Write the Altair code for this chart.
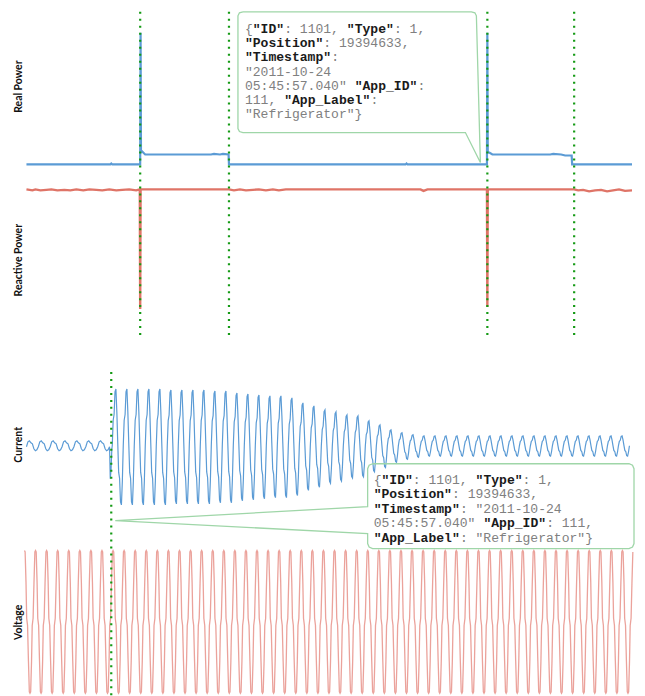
import altair as alt
import pandas as pd

# ---------------- Top section: power signals (x = sample units) ----------------
rp_t = [0, 84, 85, 86, 114, 114.4, 114.8, 116, 119, 150, 185, 188, 194, 197, 202.6, 203,
        290, 380, 381, 382, 461.6, 462, 462.4, 464, 467, 500, 525, 528, 536, 540, 546.5, 547, 607]
rp_v = [0, 0, 1, 0, 0, 132, 12, 13, 10, 10, 10, 10.5, 10, 10.5, 10, 0,
        0, 0, 1, 0, 0, 132, 12, 12, 10, 10, 10, 10.5, 10, 9, 9, 0, 0]

rq_t = [0, 6, 9, 14, 20, 25, 31, 38, 44, 50, 57, 63, 70, 76, 83, 90, 96, 103, 110, 113.6,
        114, 114.4, 160, 203, 208, 214, 220, 227, 233, 240, 247, 253, 260, 300, 395, 398, 402,
        461.6, 462, 462.4, 520, 549, 553, 558, 564, 570, 576, 582, 588, 594, 600, 607]
rq_v = [0, -1, 0, -1, -0.5, 0, -1, -0.5, -1, 0, -1, 0, -0.5, -1, 0, -1, -0.5, 0, -1, 0,
        -120, 0, 0, 0, -1, 0, -1, -0.5, 0, -1, 0, -1, 0, 0, 0, -1.5, 0,
        0, -118, 0, 0, 0, -1, -0.5, -2, -1, -0.5, -2, -1, 0, -1.5, -1]
top_events = [114, 203, 462, 549]

# ---------------- Bottom section: waveforms ----------------
pre_start, pre_period, pre_cycles = 0.0, 11.9, 7
pre_shape = [-1, 4, 5, 3, 2, -3, -5, -4]
event_t = [83.3, 84.0, 84.8, 85.6]
event_v = [-1, -33, -24, -3]
cur_start, cur_period = 86.0, 11.03
cur_shape = [0.0, 0.45, 0.55, 0.95, 1.0, 0.6, 0.05, -0.45, -0.55, -0.95, -1.0, -0.6]
cur_amp = [57, 57, 57, 57, 57, 56, 56, 56, 56, 55, 55, 53, 52, 51, 50, 50, 48, 43, 40, 36,
           34, 31, 30, 25, 21, 16, 13, 11] + [10] * 19
volt_start, volt_period, volt_cycles, volt_peak = -2.0, 11.1, 55, 71.5
volt_phase = [0.0, 0.06, 0.14, 0.20, 0.28, 0.36, 0.44, 0.50, 0.56, 0.64, 0.70, 0.78, 0.86, 0.94]
volt_shape = [1.0, 0.98, 0.55, 0.05, -0.05, -0.55, -0.98, -1.0, -0.98, -0.55, -0.05, 0.05, 0.55, 0.98]
bottom_events = [85]

# ---------------- Panel titles (value in each panel's own units) ----------------
panel_titles = ["Real Power", "Reactive Power", "Current", "Voltage"]
title_pos = [78, -71, 1, -0.5]

# ---------------- Callout annotations (panel units) ----------------
top_box_x = [217, 446, 449.5, 451, 455, 440, 217, 213.5, 212, 212, 213.5, 217]
top_box_y = [153, 153, 152, 149, 2, 32, 32, 33, 36, 149, 152, 153]
bot_box_x = [347, 604, 607.5, 609, 609, 607.5, 604, 347, 343.5, 342, 342, 89, 342, 342, 343.5, 347]
bot_box_y = [-18, -18, -19.5, -23, -98, -101.5, -103, -103, -101.5, -98, -88, -75, -61, -23, -19.5, -18]
top_lines = ['{**"ID"**: 1101, **"Type"**: 1,',
             '**"Position"**: 19394633,',
             '**"Timestamp"**:',
             '"2011-10-24',
             '05:45:57.040" **"App_ID"**:',
             '111, **"App_Label"**:',
             '"Refrigerator"}']
bot_lines = ['{**"ID"**: 1101, **"Type"**: 1,',
             '**"Position"**: 19394633,',
             '**"Timestamp"**: "2011-10-24',
             '05:45:57.040" **"App_ID"**: 111,',
             '**"App_Label"**: "Refrigerator"}']

# ---------------- Build tables ----------------
rp = pd.DataFrame({"t": rp_t, "v": rp_v})
rq = pd.DataFrame({"t": rq_t, "v": rq_v})

cur_rows = []
for c in range(pre_cycles):
    for j, s in enumerate(pre_shape):
        cur_rows.append((pre_start + (c + j / len(pre_shape)) * pre_period, s))
for t, v in zip(event_t, event_v):
    cur_rows.append((t, v))
for k, a in enumerate(cur_amp):
    for j, s in enumerate(cur_shape):
        cur_rows.append((cur_start + (k + j / len(cur_shape)) * cur_period, a * s * (1.04 if s < 0 else 1.0)))
cur_rows.append((cur_start + len(cur_amp) * cur_period, 0.0))
cur = pd.DataFrame(cur_rows, columns=["t", "v"])
cur["i"] = range(len(cur))

volt_rows = []
for c in range(volt_cycles):
    for ph, s in zip(volt_phase, volt_shape):
        t = volt_start + (c + ph) * volt_period
        if t <= 608:
            volt_rows.append((t, volt_peak * s))
volt = pd.DataFrame(volt_rows, columns=["t", "v"])
volt["i"] = range(len(volt))


def text_rows(lines, x0, y0, dy, cw):
    rows = []
    for i, line in enumerate(lines):
        col = 0
        for j, part in enumerate(line.split("**")):
            stripped = part.lstrip(" ")
            lead = len(part) - len(stripped)
            s = stripped.rstrip(" ")
            if s:
                rows.append({"t": x0 + (col + lead) * cw, "v": y0 - i * dy, "txt": s, "bold": j % 2 == 1})
            col += len(part)
    return pd.DataFrame(rows)


CW = 7.86
top_txt = text_rows(top_lines, 219, 136, 14.3, CW)
bot_txt = text_rows(bot_lines, 348, -34, 14.5, CW)
top_box = pd.DataFrame({"t": top_box_x, "v": top_box_y, "i": range(len(top_box_x))})
bot_box = pd.DataFrame({"t": bot_box_x, "v": bot_box_y, "i": range(len(bot_box_x))})

# ---------------- Layout of the four stacked panels ----------------
W, H = 607, 688
BASE = {"real": 154, "reactive": 179, "current": 436, "voltage": 612.5}   # zero line of each panel
TOP_SPAN, BOT_SPAN = (1, 325), (362, 688)                                   # extent of event markers

BLUE = "#5b9bd5"
RED = "#df7467"
GREEN = "#149a14"
BOXC = "#9fd6a8"

X = alt.X("t:Q", scale=alt.Scale(domain=[0, W], nice=False, zero=False), axis=None)
Y = alt.Y("yy:Q", scale=alt.Scale(domain=[0, H], reverse=True, nice=False, zero=False), axis=None)


def placed(df, panel):
    return alt.Chart(df).transform_calculate(yy=f"{BASE[panel]} - datum.v")


def rules(events, span):
    df = pd.DataFrame({"t": events, "yy": [span[0]] * len(events), "y2": [span[1]] * len(events)})
    return alt.Chart(df).mark_rule(color=GREEN, strokeWidth=2.2, strokeDash=[2, 5]).encode(
        x=X, y=Y, y2="y2:Q")


def ytitle(idx, panel):
    df = pd.DataFrame({"t": [-4.5], "v": [title_pos[idx]], "txt": [panel_titles[idx]]})
    return placed(df, panel).mark_text(angle=270, align="center", baseline="alphabetic",
                                       font="Lato", fontSize=10.5, fontWeight="bold",
                                       color="#111111").encode(x=X, y=Y, text="txt:N")


def callout(box, txt, panel):
    path = placed(box, panel).mark_line(color=BOXC, strokeWidth=1.3).encode(x=X, y=Y, order="i:Q")
    bold = placed(txt, panel).transform_filter("datum.bold").mark_text(
        align="left", baseline="middle", font="Liberation Mono", fontSize=13.1,
        fontWeight="bold", color="#1a1a1a").encode(x=X, y=Y, text="txt:N")
    norm = placed(txt, panel).transform_filter("!datum.bold").mark_text(
        align="left", baseline="middle", font="Liberation Mono", fontSize=13.1,
        color="#808080").encode(x=X, y=Y, text="txt:N")
    return [path, bold, norm]


layers = [
    placed(rp, "real").mark_line(color=BLUE, strokeWidth=2.2).encode(x=X, y=Y),
    placed(rq, "reactive").mark_line(color=RED, strokeWidth=2.4).encode(x=X, y=Y),
    placed(cur, "current").mark_line(color=BLUE, strokeWidth=1.2).encode(x=X, y=Y, order="i:Q"),
    placed(volt, "voltage").mark_line(color="#e8928a", strokeWidth=1.3, opacity=0.85).encode(
        x=X, y=Y, order="i:Q"),
    rules(top_events, TOP_SPAN),
    rules(bottom_events, BOT_SPAN),
    *callout(top_box, top_txt, "real"),
    *callout(bot_box, bot_txt, "current"),
    ytitle(0, "real"),
    ytitle(1, "reactive"),
    ytitle(2, "current"),
    ytitle(3, "voltage"),
]

chart = alt.layer(*layers).properties(
    width=W, height=H,
    padding={"left": 5.5, "top": 0, "right": 0, "bottom": 0},
    background="white",
).configure_view(stroke=None)

chart.save("out.html", embed_options={"renderer": "svg", "actions": False})
